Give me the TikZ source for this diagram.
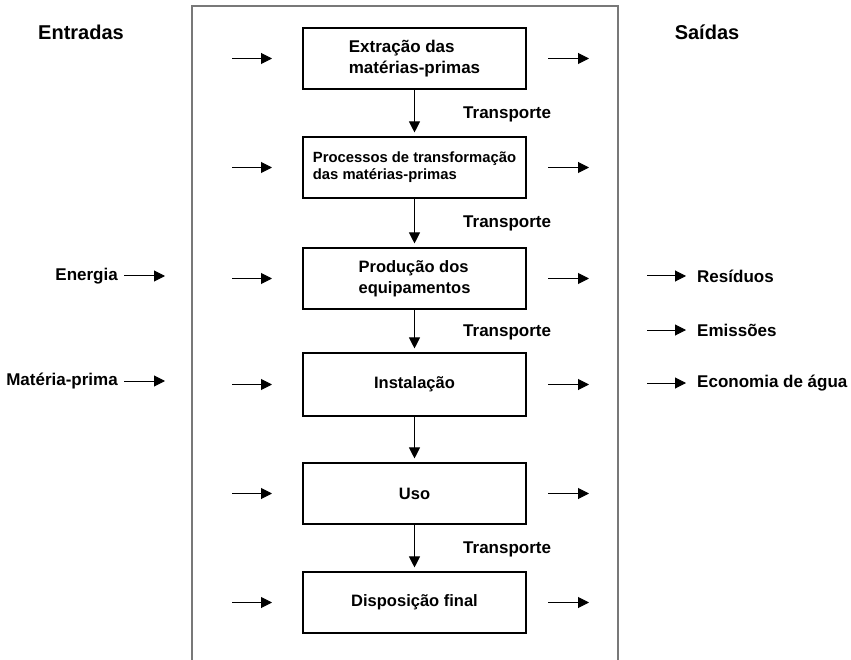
\documentclass[tikz,border=0pt]{standalone}
\usepackage{fontspec}
\setmainfont{Liberation Sans}
\usetikzlibrary{arrows.meta}
\definecolor{framegray}{RGB}{120,120,120}
\begin{document}
\begin{tikzpicture}[x=1pt,y=-1pt,
  stage/.style={draw,line width=1.1pt,minimum width=223pt,minimum height=61pt,
    inner sep=0pt,align=left,font=\bfseries\fontsize{16.5}{20.5}\selectfont},
  flow/.style={line width=1pt,-{Triangle[length=11pt,width=11pt]}},
  down/.style={flow,shorten >=4pt},
  side/.style={inner sep=0pt,font=\bfseries\fontsize{17}{20}\selectfont},
  head/.style={inner sep=0pt,font=\bfseries\fontsize{20}{23}\selectfont}]
\useasboundingbox (0,0) rectangle (851,660);

% open frame around the life-cycle stages
\draw[framegray,line width=1.5pt] (192,670) -- (192,6) -- (618,6) -- (618,670);

% headers
\node[head] (hin) at (81,32) {Entradas};
\node[head] (hout) at (707,32) {Saídas};

% life-cycle stages
\node[stage,font=\bfseries\fontsize{17}{21}\selectfont] (b1) at (414.5,58.5) {Extração das\\matérias-primas};
\node[stage,font=\bfseries\fontsize{14.8}{17}\selectfont] (b2) at (414.5,167.5) {Processos de transformação\\das matérias-primas};
\node[stage] (b3) at (414.5,278.5) {Produção dos\\equipamentos};
\node[stage,minimum height=63pt] (b4) at (414.5,384.5) {Instalação};
\node[stage] (b5) at (414.5,493.5) {Uso};
\node[stage] (b6) at (414.5,602.5) {Disposição final};

% flow between stages
\draw[down] (b1) -- (b2);
\draw[down] (b2) -- (b3);
\draw[down] (b3) -- (b4);
\draw[down] (b4) -- (b5);
\draw[down] (b5) -- (b6);

\node[side,anchor=west] (t1) at (463,114) {Transporte};
\node[side,anchor=west] (t2) at (463,223) {Transporte};
\node[side,anchor=west] (t3) at (463,332) {Transporte};
\node[side,anchor=west] (t5) at (463,549) {Transporte};

% inputs and outputs of each stage
\foreach \i/\y in {1/58.5,2/167.5,3/278.5,4/384.5,5/493.5,6/602.5}{
  \coordinate (in\i) at (232,\y);
  \coordinate (it\i) at (272,\y);
  \coordinate (os\i) at (548,\y);
  \coordinate (ot\i) at (589,\y);
  \draw[flow] (in\i) -- (it\i);
  \draw[flow] (os\i) -- (ot\i);
}

% external inputs
\node[side,anchor=east] (en) at (118,276) {Energia};
\coordinate (enT) at (165,276);
\draw[flow] ([xshift=6pt]en.east) -- (enT);
\node[side,anchor=east] (mp) at (118,381) {Matéria-prima};
\coordinate (mpT) at (165,381);
\draw[flow] ([xshift=6pt]mp.east) -- (mpT);

% external outputs
\node[side,anchor=west] (re) at (697,276) {Resíduos};
\coordinate (reS) at (647,276);
\draw[flow] (reS) -- ([xshift=-11pt]re.west);
\node[side,anchor=west] (em) at (697,330) {Emissões};
\coordinate (emS) at (647,330);
\draw[flow] (emS) -- ([xshift=-11pt]em.west);
\node[side,anchor=west] (ec) at (697,383) {Economia de água};
\coordinate (ecS) at (647,383);
\draw[flow] (ecS) -- ([xshift=-11pt]ec.west);
\end{tikzpicture}
\end{document}
